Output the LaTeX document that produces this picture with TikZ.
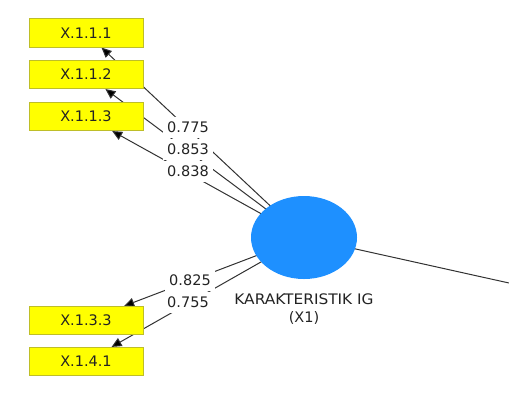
\documentclass[tikz,border=0pt]{standalone}
\usepackage{fontspec}
\setmainfont{DejaVu Sans}
\usetikzlibrary{arrows.meta,shapes.geometric}
\pgfdeclarelayer{bg}
\pgfsetlayers{bg,main}
\definecolor{boxyellow}{RGB}{255,255,0}
\definecolor{boxedge}{RGB}{190,190,40}
\definecolor{lvblue}{RGB}{30,144,255}
\definecolor{linegray}{RGB}{50,50,50}
\definecolor{txtgray}{RGB}{35,35,35}
\begin{document}
\begin{tikzpicture}[x=1bp,y=-1bp,
  indbox/.style={rectangle,fill=boxyellow,draw=boxedge,line width=0.6bp,
    minimum width=114bp,minimum height=28.5bp,inner sep=0pt,
    font=\fontsize{14.5bp}{16bp}\selectfont,text=txtgray},
  latent/.style={ellipse,fill=lvblue,draw=none,minimum width=106bp,minimum height=83bp,inner sep=0pt},
  wlabel/.style={fill=white,inner xsep=4bp,inner ysep=5bp,text height=10.5bp,text depth=0bp,
    font=\fontsize{14.5bp}{16bp}\selectfont,text=txtgray},
  lvtext/.style={align=center,font=\fontsize{14.5bp}{18bp}\selectfont,text=txtgray},
  link/.style={draw=linegray,line width=1bp,-{Triangle[length=10bp,width=9bp,fill=black]}}]
\useasboundingbox (0,0) rectangle (509,409);
% indicator boxes
\node[indbox] (i1) at (86,33) {X.1.1.1};
\node[indbox] (i2) at (86,74.5) {X.1.1.2};
\node[indbox] (i3) at (86,116.5) {X.1.1.3};
\node[indbox] (i4) at (86,320.5) {X.1.3.3};
\node[indbox] (i5) at (86,361.5) {X.1.4.1};
% latent variable
\node[latent] (lv) at (304,237.5) {};
\node[lvtext] (lvname) at (304,309) {\scalebox{1.06}[1]{KARAKTERISTIK IG}\\(X1)};
\coordinate (out) at (509,283);
% loadings labels
\node[wlabel] (l1) at (188,127.5) {0.775};
\node[wlabel] (l2) at (188,149.5) {0.853};
\node[wlabel] (l3) at (188,171.5) {0.838};
\node[wlabel] (l4) at (190,280.5) {0.825};
\node[wlabel] (l5) at (188,302.5) {0.755};
% connectors behind everything
\begin{pgfonlayer}{bg}
\draw[link] (lv.center) -- (i1);
\draw[link] (lv.center) -- (i2);
\draw[link] (lv.center) -- (i3);
\draw[link] (lv.center) -- (i4);
\draw[link] (lv.center) -- (i5);
\draw[draw=linegray,line width=1bp] (lv.center) -- (out);
\end{pgfonlayer}
\end{tikzpicture}
\end{document}
